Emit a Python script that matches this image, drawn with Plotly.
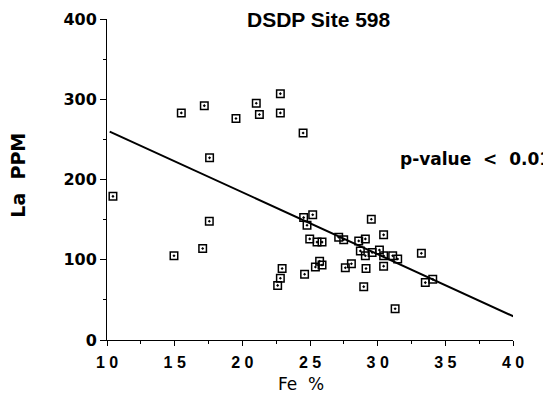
import plotly.graph_objects as go

# Data
fe_pct = [10.44, 14.95, 15.49, 17.07, 17.19, 17.56, 17.58, 19.53, 21.03, 21.26, 22.81, 22.81, 24.49,
          22.61, 22.81, 22.94, 24.6, 25.4, 25.71, 25.89,
          24.53, 25.2, 24.78, 24.98, 25.52, 25.89,
          27.12, 27.49, 28.6, 29.09, 30.44, 29.53,
          28.72, 29.09, 29.59, 30.13, 30.44, 31.11, 31.48,
          33.23, 33.52, 34.07, 27.61, 28.06, 29.14, 30.44, 28.97, 31.29]
la_ppm = [179, 105, 283, 114, 292, 148, 227, 276, 295, 281, 307, 283, 258,
          68, 77, 89, 82, 91, 98, 93.5,
          152.5, 156, 143, 126, 122, 122,
          128, 125, 123.5, 126, 131, 150.5,
          111, 105, 109, 112, 105, 105, 101,
          108, 71.5, 75.7, 90, 95, 89, 92, 66.5, 39]

fit_intercept = 338.5
fit_slope = -7.72
fit_x = [10.2, 40.25]
fit_y = [fit_intercept + fit_slope * v for v in fit_x]

x_ticks = [10, 15, 20, 25, 30, 35, 40]
x_ticktext = ["1 0", "1 5", "2 0", "2 5", "3 0", "3 5", "4 0"]
y_ticks = [0, 100, 200, 300, 400]

LIB = "Liberation Sans, Arial, sans-serif"
DJV = "DejaVu Sans, sans-serif"
NB = "\u00a0"

# page offset (default body margin) is 8px
PLOT_L, PLOT_R, PLOT_T, PLOT_B = 106.7, 512.7, 19.3, 340.0
W, H = 543, 397

fig = go.Figure()
fig.add_trace(go.Scatter(
    x=fit_x, y=fit_y, mode="lines",
    line=dict(color="black", width=2), cliponaxis=False, hoverinfo="skip"))
fig.add_trace(go.Scatter(
    x=fe_pct, y=la_ppm, mode="markers",
    marker=dict(symbol="square-open-dot", size=7.5, color="black",
                line=dict(color="black", width=1.5)),
    cliponaxis=False))

pw = PLOT_R - PLOT_L
ph = PLOT_B - PLOT_T

fig.update_layout(
    width=W, height=H,
    margin=dict(l=PLOT_L - 8, r=W + 8 - PLOT_R, t=PLOT_T - 8, b=H + 8 - PLOT_B),
    paper_bgcolor="white", plot_bgcolor="white",
    showlegend=False,
    font=dict(family=LIB, color="black"),
    xaxis=dict(range=[10, 40], tickvals=x_ticks, ticktext=x_ticktext,
               automargin=False,
               showgrid=False, zeroline=False, showline=True,
               linecolor="black", linewidth=1,
               ticks="outside", ticklen=5, tickcolor="black", tickwidth=1,
               ticklabelstandoff=3,
               minor=dict(dtick=2.5, ticks="outside", ticklen=3,
                          tickcolor="black", showgrid=False),
               tickfont=dict(size=16, weight="bold", family=LIB)),
    yaxis=dict(range=[0, 400], tickvals=y_ticks,
               automargin=False,
               showgrid=False, zeroline=False, showline=True,
               linecolor="black", linewidth=1,
               ticks="outside", ticklen=6, tickcolor="black", tickwidth=1,
               minor=dict(dtick=50, ticks="outside", ticklen=3,
                          tickcolor="black", showgrid=False),
               tickfont=dict(size=16, weight="bold", family=DJV)),
    annotations=[
        dict(text="DSDP Site 598", xref="paper", yref="paper",
             x=(318.5 - PLOT_L) / pw, y=(PLOT_B - 19.5) / ph,
             xanchor="center", yanchor="middle", showarrow=False,
             font=dict(size=21, weight="bold", family=LIB)),
        dict(text=f"p-value{NB*2}<{NB*2}0.01", xref="paper", yref="paper",
             x=(398 - PLOT_L) / pw, y=(PLOT_B - 159) / ph,
             xanchor="left", yanchor="middle", showarrow=False,
             font=dict(size=17, weight="bold", family=DJV)),
        dict(text=f"Fe{NB*2}%", xref="paper", yref="paper", x=(301 - PLOT_L) / pw,
             y=(PLOT_B - 384) / ph, xanchor="center", yanchor="middle", showarrow=False,
             font=dict(size=17, family=DJV)),
        dict(text=f"La{NB*2}PPM", xref="paper", yref="paper", x=(17.5 - PLOT_L) / pw,
             y=(PLOT_B - 175) / ph, xanchor="center", yanchor="middle", showarrow=False,
             textangle=-90, font=dict(size=19, weight="bold", family=DJV)),
    ],
)

fig.write_html("out.html")
